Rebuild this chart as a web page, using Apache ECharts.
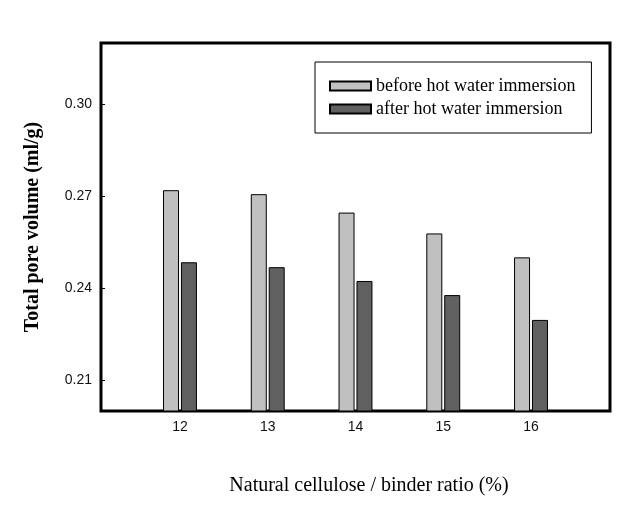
<!DOCTYPE html>
<html>
<head>
<meta charset="utf-8">
<script src="https://cdn.jsdelivr.net/npm/echarts@6/dist/echarts.min.js"></script>
<style>
html,body{margin:0;padding:0;background:#fff;}
#chart{width:639px;height:532px;}
</style>
</head>
<body>
<div id="chart"></div>
<script>
const categories = [12, 13, 14, 15, 16];
const beforeValues = [0.2720, 0.2707, 0.2647, 0.2579, 0.2501];
const afterValues = [0.2485, 0.2469, 0.2424, 0.2378, 0.2297];
const yTicks = [0.21, 0.24, 0.27, 0.30];
const seriesNames = ['before hot water immersion', 'after hot water immersion'];

const chart = echarts.init(document.getElementById('chart'), null, {renderer: 'canvas'});
const pair = (vals) => categories.map((c, i) => [c, vals[i]]);

chart.setOption({
  animation: false,
  backgroundColor: '#ffffff',
  grid: {
    left: 101, top: 43, right: 29, bottom: 121,
    show: true, borderColor: '#000', borderWidth: 3, backgroundColor: 'transparent'
  },
  legend: {
    orient: 'vertical',
    left: 315, top: 62,
    icon: 'rect',
    itemWidth: 41, itemHeight: 9, itemGap: 5,
    borderColor: '#000', borderWidth: 1,
    padding: [15, 16, 15, 14],
    textStyle: {fontFamily: 'Liberation Serif', fontSize: 18, color: '#000'},
    data: seriesNames
  },
  xAxis: {
    type: 'value', min: 11.1, max: 16.9,
    axisLine: {show: false},
    axisTick: {show: false},
    splitLine: {show: false},
    axisLabel: {
      customValues: categories,
      margin: 9,
      fontFamily: 'Liberation Sans', fontSize: 14, color: '#111',
      formatter: v => String(v)
    },
    name: 'Natural cellulose / binder ratio (%)',
    nameLocation: 'middle', nameGap: 65,
    nameTextStyle: {fontFamily: 'Liberation Serif', fontSize: 20, color: '#000', padding: [0, 0, 0, 27]}
  },
  yAxis: {
    type: 'value', min: 0.2, max: 0.32,
    axisLine: {show: false},
    splitLine: {show: false},
    axisTick: {show: true, inside: true, length: 4, customValues: yTicks, lineStyle: {color: '#000', width: 1}},
    axisLabel: {
      customValues: yTicks,
      margin: 9,
      fontFamily: 'Liberation Sans', fontSize: 14, color: '#111',
      formatter: v => v.toFixed(2)
    },
    name: 'Total pore volume (ml/g)',
    nameLocation: 'middle', nameGap: 58,
    nameTextStyle: {fontFamily: 'Liberation Serif', fontSize: 20, fontWeight: 'bold', color: '#000'}
  },
  series: [
    {
      name: seriesNames[0], type: 'bar', data: pair(beforeValues),
      barWidth: 16, barGap: '12%',
      itemStyle: {color: '#c0c0c0', borderColor: '#000', borderWidth: 1}
    },
    {
      name: seriesNames[1], type: 'bar', data: pair(afterValues),
      barWidth: 16, barGap: '12%',
      itemStyle: {color: '#606060', borderColor: '#000', borderWidth: 1}
    }
  ]
});
</script>
</body>
</html>
